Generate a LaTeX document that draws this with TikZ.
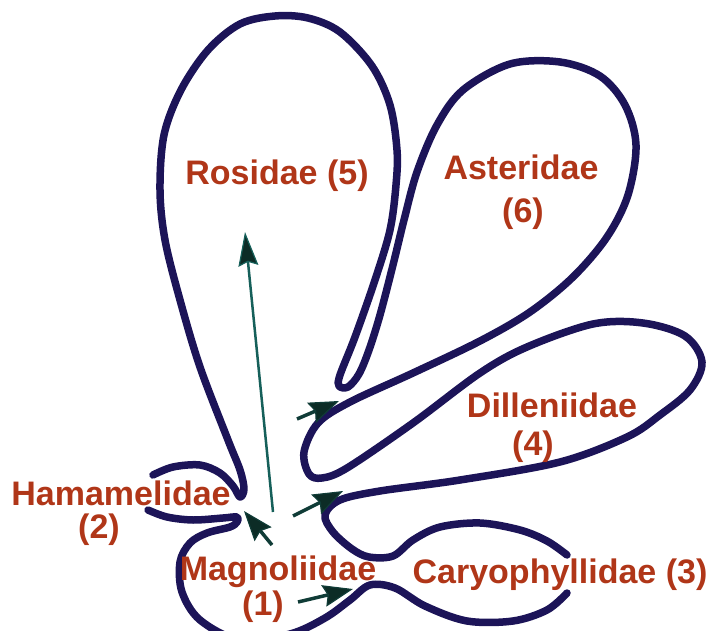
\documentclass[tikz,border=0pt]{standalone}
\usepackage{fontspec}
\setmainfont{Liberation Sans}
\usetikzlibrary{arrows.meta}
\definecolor{outl}{RGB}{28,20,88}
\definecolor{lbl}{RGB}{176,54,24}
\definecolor{arrfill}{RGB}{12,44,38}
\definecolor{arrline}{RGB}{22,96,90}
\definecolor{arrdark}{RGB}{16,60,55}
\begin{document}
\begin{tikzpicture}[x=1pt,y=-1pt,
  outline/.style={draw=outl, line width=7.5pt, line cap=round, line join=round},
  lab/.style={text=lbl, font=\fontsize{34}{40}\selectfont\bfseries, anchor=base, inner sep=0pt},
  arr/.style={draw=arrdark, line width=3.5pt, -{Stealth[length=30pt,width=22pt,inset=4pt,fill=arrfill,line width=1.2pt]}},
  longarr/.style={draw=arrline, line width=2.5pt, -{Stealth[length=34pt,width=20pt,inset=4pt,fill=arrfill,line width=1.2pt]}}
]
\useasboundingbox (0,0) rectangle (723,631);
\clip (0,0) rectangle (723,631);

% main outline: Hamamelidae upper arc -> Rosidae -> Asteridae -> Dilleniidae -> Caryophyllidae upper
\draw[outline] plot[smooth, tension=0.55] coordinates {
  (153,475) (173,467) (200,465) (220,473) (233,486) (240,497) (244,489) (240,470) (228,440)
  (200,367) (180,300) (165,240) (160,190) (164,135) (181,90) (208,50) (240,24) (275,16)
  (308,18) (340,32) (372,66) (390,105) (397,150) (396,185) (390,230) (375,280) (355,337)
  (340,375) (339,386) (348,387) (359,374) (369,350) (380,315) (393,265) (404,220) (417,172)
  (437,125) (463,90) (510,64) (560,62) (600,76) (625,105) (636,145) (628,195) (607,237)
  (573,277) (530,312) (480,341) (413,373) (350,402) (318,423) (304,452) (309,474) (322,478)
  (347,468) (413,423) (480,373) (527,347) (593,324) (643,323) (685,336) (702,362) (690,390)
  (660,415) (627,437) (560,462) (460,480) (380,491) (340,500) (325,515) (333,532) (352,549)
  (369,557) (393,556) (413,540) (440,527) (480,523) (520,530) (547,541) (567,555)
};

% second outline: Hamamelidae lower arc -> Magnoliidae -> Caryophyllidae lower
\draw[outline] plot[smooth, tension=0.55] coordinates {
  (148,510) (167,517) (193,520) (223,518) (237,517) (237,522) (230,527) (207,533) (190,543)
  (180,562) (182,592) (200,620) (240,640) (290,634) (325,618) (350,600) (370,585) (395,588)
  (425,606) (467,621) (513,621) (547,610) (567,593)
};

% arrows
\coordinate (r0) at (273,512); \coordinate (r1) at (245,232);
\coordinate (h0) at (272,545); \coordinate (h1) at (244,511);
\coordinate (d0) at (293,516); \coordinate (d1) at (343,491);
\coordinate (a0) at (297,419); \coordinate (a1) at (339,401);
\coordinate (c0) at (298,602); \coordinate (c1) at (353,589);
\draw[longarr] (r0) -- (r1);
\draw[arr] (h0) -- (h1);
\draw[arr] (d0) -- (d1);
\draw[arr] (a0) -- (a1);
\draw[arr] (c0) -- (c1);

% labels
\node[lab] (ros) at (277,185) {Rosidae (5)};
\node[lab] (ast) at (521,180) {Asteridae};
\node[lab] (ast2) at (523,223) {(6)};
\node[lab] (dil) at (552,417) {Dilleniidae};
\node[lab] (dil2) at (533,455) {(4)};
\node[lab] (ham) at (121,505) {Hamamelidae};
\node[lab] (ham2) at (99,538) {(2)};
\node[lab] (mag) at (278,580) {Magnoliidae};
\node[lab] (mag2) at (263,615) {(1)};
\node[lab] (car) at (560,583) {Caryophyllidae (3)};
\end{tikzpicture}
\end{document}
